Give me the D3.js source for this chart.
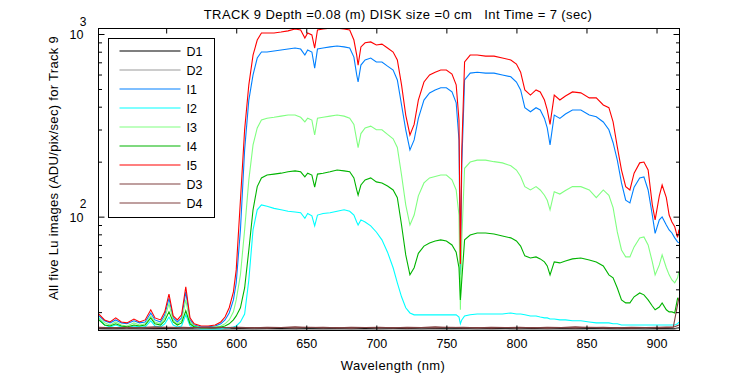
<!DOCTYPE html>
<html>
<head>
<meta charset="utf-8">
<script src="https://cdn.jsdelivr.net/npm/d3@7"></script>
<style>
  html, body { margin: 0; padding: 0; background: #fff; }
  svg { display: block; font-family: "Liberation Sans", Arial, sans-serif; }
</style>
</head>
<body>
<div id="chart"></div>
<script>
// chart data
const titleText = "TRACK 9 Depth =0.08 (m) DISK size =0 cm\u00a0\u00a0\u00a0Int Time = 7 (sec)";
const xLabel = "Wavelength (nm)";
const yLabel = "All five Lu images (ADU/pix/sec) for Track 9";

const xTicks = [550, 600, 650, 700, 750, 800, 850, 900];
const yMajor = [100, 1000];
const yMinor = [30, 40, 50, 60, 70, 80, 90, 200, 300, 400, 500, 600, 700, 800, 900];

const wave = [502, 506, 510, 514, 518, 522, 527, 531, 535, 539, 542, 546, 549, 552, 555, 558, 561, 564, 567, 570,
  575, 580, 585, 589, 592, 595, 598, 600, 603, 606, 609, 612, 615, 618, 622, 627, 632, 637, 642, 646,
  649, 651, 654, 656, 658, 662, 667, 672, 677, 681, 684, 686, 687, 689, 692, 696, 700, 704, 708, 712,
  715, 718, 721, 724, 727, 730, 734, 738, 742, 746, 750, 754, 757, 759, 760, 761, 763, 767, 772, 778,
  784, 790, 796, 800, 803, 806, 810, 814, 817, 820, 822, 824, 827, 831, 835, 840, 846, 852, 857, 862,
  866, 869, 872, 875, 878, 881, 884, 888, 891, 894, 897, 899, 902, 904, 907, 909, 911, 913, 915, 916];

const i1 = [28.6, 26.9, 26.2, 27.2, 26.2, 25.9, 26.9, 26.2, 26.5, 29.7, 27.2, 26.5, 29.0, 35.7, 27.9, 26.5, 27.9, 38.7, 27.2, 25.5,
  24.9, 24.9, 25.2, 25.9, 27.2, 29.7, 35.0, 43.4, 84.6, 232, 435, 597, 739, 797, 797, 807, 817, 827, 838, 827,
  767, 817, 797, 650, 827, 838, 850, 860, 850, 838, 748, 597, 546, 676, 721, 739, 703, 703, 667, 635,
  560, 409, 299, 232, 263, 345, 435, 476, 494, 508, 508, 482, 420, 263, 48, 192, 560, 611, 618, 611,
  611, 597, 583, 546, 494, 395, 375, 395, 384, 345, 306, 247, 360, 345, 365, 384, 384, 360, 352, 330,
  299, 254, 204, 153, 123, 119, 145, 163, 165, 140, 102, 81, 96, 99.6, 90, 84.6, 81.4, 76.5, 72.7, 71.8];

const i2 = [27.9, 25.5, 24.9, 25.5, 24.9, 24.6, 25.2, 24.9, 24.9, 26.9, 25.2, 24.9, 25.9, 28.2, 25.5, 24.9, 25.2, 29.0, 25.2, 24.6,
  24.3, 24.3, 24.3, 24.3, 24.6, 24.6, 24.9, 25.2, 26.5, 29.3, 45, 84.6, 109, 116, 114, 111, 109, 107, 106, 105,
  98, 104, 101, 89, 102, 104, 105, 107, 109, 107, 102, 93.5, 90, 96, 93.5, 89, 82.4, 74.6, 63.9, 52.5,
  43.4, 36.4, 31.7, 29.7, 29.0, 29.0, 29.0, 29.0, 29.0, 29.0, 29.0, 29.0, 29.0, 28.2, 25.9, 27.2, 28.6, 29.0, 29.3, 29.3,
  29.3, 29.3, 29.7, 29.3, 29.3, 29.0, 28.6, 28.6, 28.2, 27.9, 27.9, 27.5, 27.5, 27.2, 27.2, 26.9, 26.9, 26.5, 26.2, 26.2,
  26.2, 25.9, 25.9, 25.5, 25.5, 25.5, 25.5, 25.5, 25.5, 25.5, 25.5, 25.5, 25.5, 25.5, 25.5, 25.5, 25.5, 25.5, 25.9, 26.5];

const i3 = [27.9, 26.2, 25.5, 26.5, 25.5, 25.2, 26.2, 25.5, 25.9, 28.6, 26.5, 25.9, 27.9, 33.3, 27.2, 25.9, 26.9, 35.0, 26.5, 25.2,
  24.6, 24.6, 24.9, 25.2, 25.9, 27.2, 30.1, 35.0, 48.0, 84.6, 159, 247, 306, 338, 346, 350, 355, 360, 360, 350,
  330, 346, 338, 280, 346, 350, 355, 360, 355, 346, 320, 263, 239, 285, 306, 313, 299, 299, 282, 267,
  239, 169, 116, 90, 102, 130, 153, 163, 166, 169, 169, 159, 140, 102, 30.9, 74.6, 184, 199, 204, 204,
  200, 197, 190, 180, 166, 146, 140, 146, 140, 131, 123, 109, 137, 133, 139, 146, 146, 140, 127, 140,
  131, 112, 82.5, 65.7, 60.2, 60.2, 68.3, 76.5, 77.4, 70, 56.5, 48, 54.4, 61.7, 52.5, 48, 45, 43.4, 46.2, 50];

const i4 = [27.2, 25.5, 25.2, 25.9, 25.2, 24.9, 25.5, 25.2, 25.5, 27.9, 25.9, 25.5, 26.9, 30.1, 26.5, 25.5, 26.2, 30.5, 25.9, 24.9,
  24.6, 24.6, 24.6, 24.9, 25.2, 25.9, 27.2, 28.6, 31.7, 40.7, 65.7, 109, 146, 163, 169, 171, 173, 176, 178, 176,
  165, 173, 169, 145, 171, 173, 176, 180, 178, 176, 163, 140, 131, 149, 159, 163, 155, 153, 147, 140,
  127, 90, 61.7, 48, 52.5, 63, 69, 71.8, 73.6, 74.6, 73.6, 70, 63.9, 52.5, 35.0, 45, 74.6, 79.3, 81.4, 81.4,
  80.3, 78.4, 76.5, 73.6, 69, 61, 59.4, 60.2, 58.7, 56.5, 53.7, 48, 56.5, 55.8, 57.2, 58.7, 59.4, 57.9, 56.5, 53.7,
  48, 46.2, 40.7, 35.0, 33.7, 33.7, 36.4, 38.2, 37.3, 35, 32.4, 30.9, 32, 33.7, 30.9, 30.1, 30.1, 29.7, 35.7, 35];

const i5 = [29.3, 27.2, 26.5, 27.9, 26.5, 26.2, 27.5, 26.5, 27.2, 30.9, 27.9, 27.2, 30.1, 37.7, 28.6, 27.2, 29.0, 41.3, 27.9, 25.9,
  25.2, 25.2, 25.5, 26.5, 28.2, 31.7, 38.7, 51.1, 123, 299, 527, 767, 927, 1013, 1013, 1013, 1025, 1040, 1065, 1052,
  950, 1013, 988, 838, 1052, 1065, 1075, 1075, 1065, 1052, 927, 767, 676, 850, 895, 905, 871, 880, 838, 797,
  721, 527, 360, 280, 320, 435, 546, 597, 618, 635, 635, 604, 527, 338, 55, 232, 703, 767, 767, 757,
  757, 739, 721, 685, 618, 494, 463, 494, 482, 435, 384, 320, 463, 435, 458, 482, 476, 447, 447, 409,
  395, 330, 241, 180, 146, 140, 173, 197, 199, 180, 116, 96, 130, 149, 127, 102, 93.5, 88, 77, 85];

// dark frames, coarser sampling
const dWave = [502, 512, 522, 532, 542, 552, 562, 572, 582, 592, 602, 612, 622, 632, 642, 652, 662, 672, 682, 692,
  702, 712, 722, 732, 742, 752, 762, 772, 782, 792, 802, 812, 822, 832, 842, 852, 862, 872, 882, 892, 902, 912, 916];
const d1 = [24.4, 24.3, 24.4, 24.3, 24.4, 24.5, 24.3, 24.3, 24.4, 24.3, 24.4, 24.3, 24.4, 24.4, 24.3, 24.4, 24.3, 24.4, 24.3, 24.4,
  24.3, 24.4, 24.4, 24.3, 24.4, 24.3, 24.4, 24.3, 24.4, 24.4, 24.3, 24.4, 24.3, 24.4, 24.3, 24.4, 24.4, 24.3, 24.4, 24.3, 24.4, 24.3, 24.6];
const d2 = [24.2, 24.1, 24.2, 24.2, 24.1, 24.2, 24.2, 24.1, 24.2, 24.2, 24.1, 24.2, 24.2, 24.1, 24.2, 24.2, 24.1, 24.2, 24.2, 24.1,
  24.2, 24.2, 24.1, 24.2, 24.2, 24.1, 24.2, 24.2, 24.1, 24.2, 24.2, 24.1, 24.2, 24.2, 24.1, 24.2, 24.2, 24.1, 24.2, 24.2, 24.1, 24.2, 24.4];
const d3vals = [24.8, 24.6, 24.8, 24.7, 24.9, 24.7, 24.8, 24.6, 24.8, 24.7, 24.8, 24.6, 24.8, 24.7, 24.9, 24.7, 24.8, 24.6, 24.8, 24.7,
  24.8, 24.6, 24.8, 24.7, 24.9, 24.7, 24.8, 24.6, 24.8, 24.7, 24.8, 24.6, 24.8, 24.7, 24.9, 24.7, 24.8, 24.6, 24.8, 24.7, 24.8, 24.9, 36];
const d4vals = [24.6, 24.7, 24.5, 24.7, 24.6, 24.8, 24.6, 24.7, 24.5, 24.7, 24.6, 24.7, 24.5, 24.7, 24.6, 24.8, 24.6, 24.7, 24.5, 24.7,
  24.6, 24.7, 24.5, 24.7, 24.6, 24.8, 24.6, 24.7, 24.5, 24.7, 24.6, 24.7, 24.5, 24.7, 24.6, 24.8, 24.6, 24.7, 24.5, 24.7, 24.6, 24.8, 25.5];

// plotting order = legend order
const seriesList = [
  { name: "D1", x: dWave, y: d1, color: "#000000" },
  { name: "D2", x: dWave, y: d2, color: "#999999" },
  { name: "I1", x: wave, y: i1, color: "#0080ff" },
  { name: "I2", x: wave, y: i2, color: "#00ffff" },
  { name: "I3", x: wave, y: i3, color: "#80ff80" },
  { name: "I4", x: wave, y: i4, color: "#00b400" },
  { name: "I5", x: wave, y: i5, color: "#ff0000" },
  { name: "D3", x: dWave, y: d3vals, color: "#804040" },
  { name: "D4", x: dWave, y: d4vals, color: "#804040" }
];

function drawChart() {
  const width = 750, height = 375;
  const margin = { top: 28.5, right: 70.5, bottom: 44.5, left: 98.5 };
  const innerWidth = width - margin.left - margin.right;
  const innerHeight = height - margin.top - margin.bottom;

  const svg = d3.select("#chart")
    .append("svg")
    .attr("width", width)
    .attr("height", height);

  svg.append("rect").attr("width", width).attr("height", height).attr("fill", "#fff");

  const g = svg.append("g").attr("transform", `translate(${margin.left},${margin.top})`);

  const xScale = d3.scaleLinear().domain([501.7, 916.4]).range([0, innerWidth]);
  const yScale = d3.scaleLog().domain([23.8, 1072]).range([innerHeight, 0]);

  g.append("clipPath").attr("id", "clip")
    .append("rect").attr("width", innerWidth).attr("height", innerHeight);

  // spectra
  const lineGen = d3.line().x(d => xScale(d[0])).y(d => yScale(d[1]));
  g.append("g").attr("clip-path", "url(#clip)")
    .selectAll("path")
    .data(seriesList)
    .enter()
    .append("path")
    .attr("fill", "none")
    .attr("stroke", d => d.color)
    .attr("stroke-width", 1.1)
    .attr("d", d => lineGen(d.x.map((w, i) => [w, d.y[i]])));

  // x axes (ticks inside)
  g.append("g")
    .attr("transform", `translate(0,${innerHeight})`)
    .call(d3.axisBottom(xScale).tickValues(xTicks).tickSizeInner(-5).tickSizeOuter(0).tickPadding(9))
    .call(a => a.select(".domain").remove())
    .selectAll("text")
    .style("font-size", "12.5px")
    .attr("fill", "#000");

  g.append("g")
    .call(d3.axisTop(xScale).tickValues(xTicks).tickSizeInner(-5).tickSizeOuter(0).tickFormat(""))
    .call(a => a.select(".domain").remove());

  // y axes: major + minor ticks on both sides
  g.append("g")
    .call(d3.axisLeft(yScale).tickValues(yMinor).tickSizeInner(-3.5).tickSizeOuter(0).tickFormat(""))
    .call(a => a.select(".domain").remove());
  g.append("g")
    .attr("transform", `translate(${innerWidth},0)`)
    .call(d3.axisRight(yScale).tickValues(yMinor).tickSizeInner(-3.5).tickSizeOuter(0).tickFormat(""))
    .call(a => a.select(".domain").remove());
  g.append("g")
    .attr("transform", `translate(${innerWidth},0)`)
    .call(d3.axisRight(yScale).tickValues(yMajor).tickSizeInner(-6).tickSizeOuter(0).tickFormat(""))
    .call(a => a.select(".domain").remove());

  const yMaj = g.append("g")
    .call(d3.axisLeft(yScale).tickValues(yMajor).tickSizeInner(-6).tickSizeOuter(0).tickFormat(""))
    .call(a => a.select(".domain").remove());

  // "10" with the exponent raised beside it
  yMaj.selectAll(".tick").append("text")
    .attr("x", -15)
    .attr("y", 4.5)
    .attr("text-anchor", "end")
    .attr("fill", "#000")
    .style("font-size", "12.5px")
    .text("10");
  yMaj.selectAll(".tick").append("text")
    .attr("x", -12)
    .attr("y", -9)
    .attr("fill", "#000")
    .style("font-size", "12px")
    .text(d => Math.round(Math.log10(d)));

  // frame
  g.append("rect")
    .attr("width", innerWidth)
    .attr("height", innerHeight)
    .attr("fill", "none")
    .attr("stroke", "#000")
    .attr("stroke-width", 1);

  // legend
  const legend = g.append("g").attr("transform", "translate(10,10)");
  legend.append("rect")
    .attr("width", 106)
    .attr("height", 179)
    .attr("fill", "#fff")
    .attr("stroke", "#000");
  const entry = legend.selectAll(".entry")
    .data(seriesList)
    .enter()
    .append("g")
    .attr("class", "entry")
    .attr("transform", (d, i) => `translate(0,${12.5 + i * 19})`);
  entry.append("line")
    .attr("x1", 11).attr("x2", 72)
    .attr("stroke", d => d.color)
    .attr("stroke-width", 1.1);
  entry.append("text")
    .attr("x", 78)
    .attr("dy", "0.36em")
    .style("font-size", "12.5px")
    .text(d => d.name);

  // titles
  svg.append("text")
    .attr("x", 398)
    .attr("y", 19)
    .attr("text-anchor", "middle")
    .style("font-size", "13px")
    .style("letter-spacing", "0.4px")
    .text(titleText);

  svg.append("text")
    .attr("x", 393)
    .attr("y", 370)
    .attr("text-anchor", "middle")
    .style("font-size", "13px")
    .style("letter-spacing", "0.4px")
    .text(xLabel);

  svg.append("text")
    .attr("transform", "translate(58,168) rotate(-90)")
    .attr("text-anchor", "middle")
    .style("font-size", "13px")
    .style("letter-spacing", "0.3px")
    .text(yLabel);
}

drawChart();
</script>
</body>
</html>
